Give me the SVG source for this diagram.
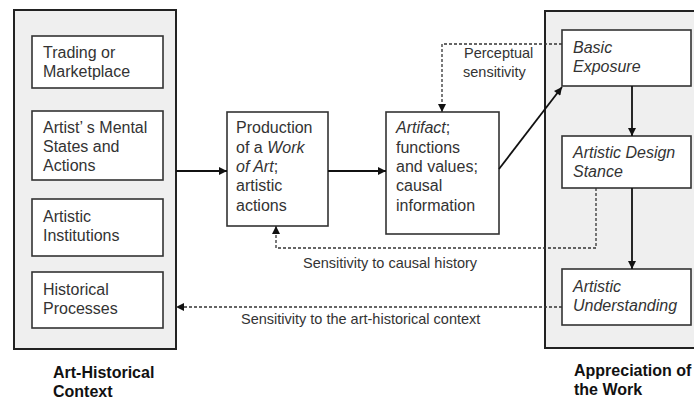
<svg xmlns="http://www.w3.org/2000/svg" width="694" height="401" viewBox="0 0 694 401">
<style>
.cont{fill:#efefef;stroke:#222;stroke-width:2}
.box{fill:#fff;stroke:#333;stroke-width:1.6}
.t{font-family:"Liberation Sans",Arial,sans-serif;font-size:16px;fill:#333}
.i{font-style:italic}
.lbl{font-family:"Liberation Sans",Arial,sans-serif;font-size:14.5px;fill:#333}
.title{font-family:"Liberation Sans",Arial,sans-serif;font-size:16px;font-weight:bold;fill:#111}
.solid{fill:none;stroke:#111;stroke-width:1.8}
.dash{fill:none;stroke:#333;stroke-width:1.3;stroke-dasharray:3 2}
</style>
<defs>
<marker id="ah" viewBox="0 0 10 10" refX="10" refY="5" markerWidth="9" markerHeight="8" markerUnits="userSpaceOnUse" orient="auto">
<path d="M0,0 L10,5 L0,10 z" fill="#111"/>
</marker>
</defs>
<rect width="694" height="401" fill="#fff"/>

<g id="art-historical-context">
<rect class="cont" x="14" y="10" width="162" height="339"/>
<text class="title" x="53" y="378">Art-Historical</text>
<text class="title" x="53" y="397">Context</text>
</g>
<g id="trading">
<rect class="box" x="32" y="36" width="131" height="52"/>
<text class="t" x="43" y="58">Trading or</text>
<text class="t" x="43" y="77">Marketplace</text>
</g>
<g id="mental-states">
<rect class="box" x="32" y="111" width="131" height="69"/>
<text class="t" x="43" y="133">Artist’ s Mental</text>
<text class="t" x="43" y="152">States and</text>
<text class="t" x="43" y="171">Actions</text>
</g>
<g id="institutions">
<rect class="box" x="32" y="199" width="131" height="57"/>
<text class="t" x="43" y="222">Artistic</text>
<text class="t" x="43" y="241">Institutions</text>
</g>
<g id="historical">
<rect class="box" x="32" y="272" width="131" height="56"/>
<text class="t" x="43" y="295">Historical</text>
<text class="t" x="43" y="314">Processes</text>
</g>

<g id="production">
<rect class="box" x="227" y="112" width="101" height="114"/>
<text class="t" x="236" y="133">Production</text>
<text class="t" x="236" y="153">of a <tspan class="i">Work</tspan></text>
<text class="t" x="236" y="172"><tspan class="i">of Art</tspan>;</text>
<text class="t" x="236" y="191">artistic</text>
<text class="t" x="236" y="211">actions</text>
</g>
<g id="artifact">
<rect class="box" x="386" y="112" width="113" height="122"/>
<text class="t" x="396" y="133"><tspan class="i">Artifact</tspan>;</text>
<text class="t" x="396" y="153">functions</text>
<text class="t" x="396" y="172">and values;</text>
<text class="t" x="396" y="191">causal</text>
<text class="t" x="396" y="211">information</text>
</g>

<g id="appreciation">
<rect class="cont" x="545" y="11" width="160" height="337"/>
<text class="title" x="574" y="376">Appreciation of</text>
<text class="title" x="574" y="395">the Work</text>
</g>
<g id="basic-exposure">
<rect class="box" x="562" y="30" width="129" height="56"/>
<text class="t i" x="573" y="53">Basic</text>
<text class="t i" x="573" y="72">Exposure</text>
</g>
<g id="design-stance">
<rect class="box" x="562" y="136" width="129" height="52"/>
<text class="t i" x="573" y="158">Artistic Design</text>
<text class="t i" x="573" y="177">Stance</text>
</g>
<g id="understanding">
<rect class="box" x="562" y="269" width="129" height="56"/>
<text class="t i" x="573" y="292">Artistic</text>
<text class="t i" x="573" y="311">Understanding</text>
</g>

<g id="connectors">
<line class="solid" x1="176" y1="171" x2="227" y2="171" marker-end="url(#ah)"/>
<line class="solid" x1="328" y1="171" x2="386" y2="171" marker-end="url(#ah)"/>
<line class="solid" x1="499" y1="169" x2="562" y2="87" marker-end="url(#ah)"/>
<line class="solid" x1="632" y1="86" x2="632" y2="136" marker-end="url(#ah)"/>
<line class="solid" x1="632" y1="188" x2="632" y2="269" marker-end="url(#ah)"/>
<polyline class="dash" points="562,44 442,44 442,112" marker-end="url(#ah)"/>
<polyline class="dash" points="596,188 596,248 276,248 276,226" marker-end="url(#ah)"/>
<line class="dash" x1="562" y1="307" x2="176" y2="307" marker-end="url(#ah)"/>
<text class="lbl" x="464" y="58">Perceptual</text>
<text class="lbl" x="463" y="77">sensitivity</text>
<text class="lbl" x="303" y="268">Sensitivity to causal history</text>
<text class="lbl" x="241" y="324">Sensitivity to the art-historical context</text>
</g>
</svg>
